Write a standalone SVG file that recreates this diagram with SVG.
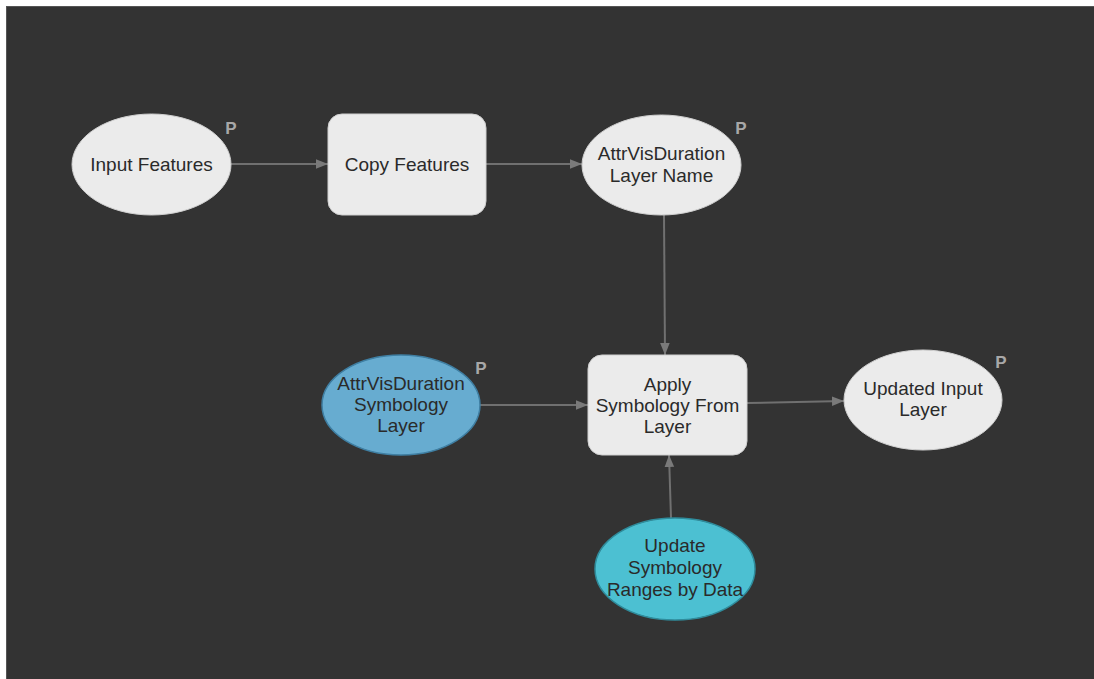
<svg xmlns="http://www.w3.org/2000/svg" width="1094" height="679" viewBox="0 0 1094 679">
<style>
.lbl{font-family:"Liberation Sans",Arial,sans-serif;font-size:19px;fill:#2a2a2a;text-anchor:middle}
.p{font-family:"Liberation Sans",Arial,sans-serif;font-size:17px;font-weight:bold;fill:#a8a8a8;text-anchor:middle}
.light{fill:#ebebeb;stroke:#d0d0d0;stroke-width:1}
.conn{stroke:#707070;stroke-width:2;fill:none;marker-end:url(#ah)}
</style>
<defs>
<marker id="ah" viewBox="0 0 10 10" refX="10" refY="5" markerWidth="12" markerHeight="12" markerUnits="userSpaceOnUse" orient="auto">
<path d="M0,1 L10,5 L0,9 z" fill="#7a7a7a"/>
</marker>
</defs>
<rect x="0" y="0" width="1094" height="679" fill="#ffffff"/>
<rect x="6.5" y="6.5" width="1090" height="675" fill="#333333" stroke="#555555" stroke-width="1"/>
<g id="connectors">
<line class="conn" x1="231" y1="164" x2="328" y2="164"/>
<line class="conn" x1="486" y1="164" x2="582" y2="164"/>
<line class="conn" x1="664" y1="215" x2="665" y2="355"/>
<line class="conn" x1="480" y1="405" x2="588" y2="405"/>
<line class="conn" x1="747" y1="403" x2="844" y2="401"/>
<line class="conn" x1="671" y1="518" x2="669" y2="455"/>
</g>
<g id="input-features">
<ellipse class="light" cx="151.5" cy="164.5" rx="79.5" ry="50.5"/>
<text class="lbl" x="151.5" y="171">Input Features</text>
<text class="p" x="231" y="134">P</text>
</g>
<g id="copy-features">
<rect class="light" x="328" y="114" width="158" height="101" rx="14"/>
<text class="lbl" x="407" y="171">Copy Features</text>
</g>
<g id="layer-name">
<ellipse class="light" cx="661.5" cy="165" rx="79.5" ry="50"/>
<text class="lbl" x="661.5" y="160">AttrVisDuration</text>
<text class="lbl" x="661.5" y="182">Layer Name</text>
<text class="p" x="741" y="134">P</text>
</g>
<g id="symbology-layer">
<ellipse cx="401" cy="405" rx="79" ry="50" fill="#67acd0" stroke="#3f7fa3" stroke-width="1.5"/>
<text class="lbl" x="401" y="390">AttrVisDuration</text>
<text class="lbl" x="401" y="411">Symbology</text>
<text class="lbl" x="401" y="432">Layer</text>
<text class="p" x="481" y="374">P</text>
</g>
<g id="apply-symbology">
<rect class="light" x="588" y="355" width="159" height="100" rx="14"/>
<text class="lbl" x="667.5" y="391">Apply</text>
<text class="lbl" x="667.5" y="412">Symbology From</text>
<text class="lbl" x="667.5" y="433">Layer</text>
</g>
<g id="updated-input-layer">
<ellipse class="light" cx="923" cy="400" rx="79" ry="50"/>
<text class="lbl" x="923" y="395">Updated Input</text>
<text class="lbl" x="923" y="416">Layer</text>
<text class="p" x="1001" y="368">P</text>
</g>
<g id="update-ranges">
<ellipse cx="675" cy="569" rx="80" ry="51" fill="#4cc0d2" stroke="#2f8c9c" stroke-width="1.5"/>
<text class="lbl" x="675" y="552">Update</text>
<text class="lbl" x="675" y="574">Symbology</text>
<text class="lbl" x="675" y="596">Ranges by Data</text>
</g>
</svg>
